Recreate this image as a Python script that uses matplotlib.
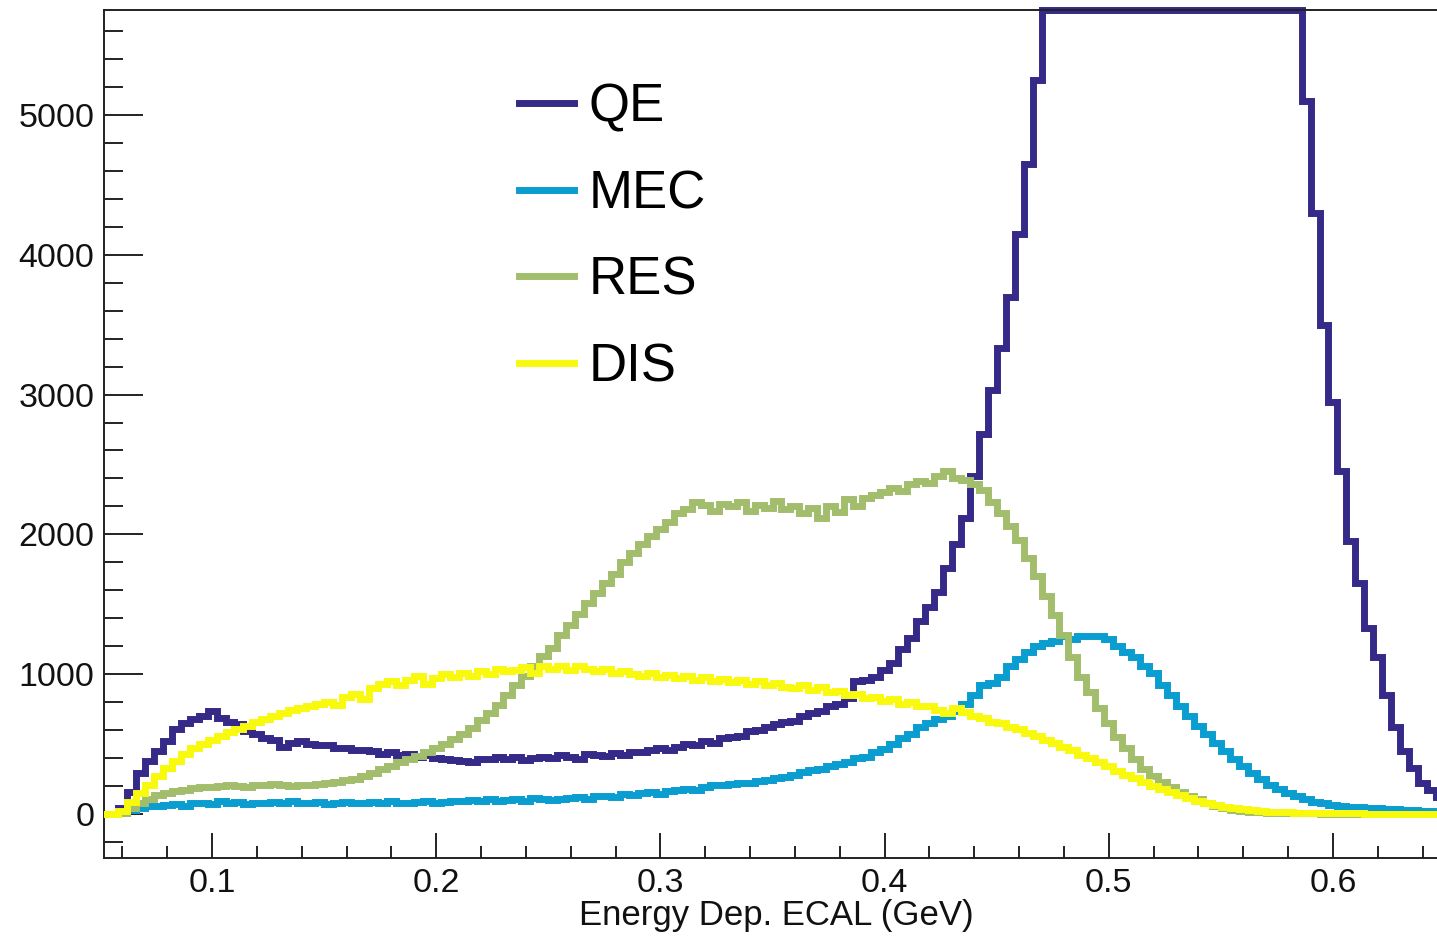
import numpy as np
import matplotlib
matplotlib.use('Agg')
import matplotlib.pyplot as plt
from matplotlib.lines import Line2D
from matplotlib.ticker import MultipleLocator

plt.rcParams['font.family'] = ['Liberation Sans', 'DejaVu Sans']

# histogram binning: 150 bins of 0.004 GeV starting at 0.05
BIN_START = 0.05
BIN_WIDTH = 0.004
N_BINS = 150

labels = ['QE', 'MEC', 'RES', 'DIS']
colors = ['#352a87', '#0a9dcf', '#a2be6c', '#f9f90e']

qe = [0, 0, 40, 160, 290, 380, 450, 520, 610, 650,
      680, 700, 740, 690, 660, 640, 590, 570, 540, 530,
      480, 510, 520, 500, 490, 495, 470, 475, 455, 460,
      450, 430, 440, 425, 430, 410, 420, 400, 395, 385,
      380, 370, 395, 390, 410, 395, 405, 385, 400, 410,
      400, 425, 405, 395, 430, 420, 415, 435, 420, 445,
      440, 455, 470, 460, 480, 500, 490, 520, 510, 540,
      550, 560, 590, 600, 625, 640, 660, 665, 700, 720,
      740, 770, 790, 830, 950, 960, 980, 1030, 1080, 1180,
      1260, 1380, 1480, 1590, 1760, 1930, 2120, 2420, 2720, 3030,
      3330, 3700, 4150, 4650, 5250, 5900, 6300, 6700, 7000, 7300,
      7500, 7700, 7800, 7900, 7950, 8000, 7950, 7900, 7850, 7800,
      7700, 7600, 7500, 7400, 7300, 7150, 7000, 6850, 6700, 6550,
      6400, 6250, 6100, 5900, 5100, 4300, 3500, 2950, 2450, 1950,
      1650, 1330, 1120, 850, 620, 450, 330, 220, 170, 120]

mec = [0, 0, 5, 25, 40, 55, 60, 65, 70, 60,
       75, 80, 70, 90, 75, 85, 70, 80, 75, 85,
       80, 90, 75, 80, 85, 70, 80, 85, 80, 75,
       85, 80, 90, 80, 75, 85, 90, 80, 85, 95,
       90, 100, 95, 110, 90, 100, 105, 95, 115, 105,
       100, 110, 115, 120, 110, 125, 130, 120, 140, 135,
       150, 155, 145, 165, 170, 180, 175, 195, 205, 210,
       215, 225, 220, 235, 240, 255, 265, 280, 300, 315,
       320, 340, 360, 375, 400, 410, 440, 465, 500, 540,
       575, 620, 650, 680, 700, 740, 790, 850, 920, 940,
       980, 1060, 1110, 1160, 1200, 1225, 1240, 1270, 1250, 1270,
       1275, 1270, 1250, 1200, 1160, 1120, 1060, 1010, 920, 850,
       770, 700, 630, 570, 510, 450, 390, 340, 290, 250,
       210, 180, 150, 125, 105, 88, 75, 65, 58, 52,
       48, 45, 40, 38, 35, 30, 25, 22, 18, 15]

res = [0, 0, 10, 40, 75, 110, 135, 150, 165, 175,
       185, 190, 195, 200, 205, 200, 195, 210, 205, 215,
       205, 200, 210, 205, 215, 225, 230, 240, 250, 270,
       290, 320, 340, 375, 390, 415, 440, 470, 500, 535,
       570, 615, 670, 720, 780, 850, 920, 990, 1060, 1130,
       1190, 1280, 1350, 1430, 1510, 1580, 1650, 1720, 1800, 1870,
       1930, 1990, 2040, 2090, 2150, 2180, 2230, 2210, 2170, 2220,
       2200, 2230, 2170, 2210, 2190, 2240, 2180, 2200, 2150, 2190,
       2120, 2200, 2160, 2250, 2200, 2260, 2280, 2300, 2330, 2310,
       2360, 2380, 2370, 2420, 2450, 2400, 2390, 2360, 2320, 2230,
       2150, 2060, 1960, 1830, 1700, 1560, 1420, 1280, 1120, 980,
       870, 760, 650, 550, 470, 390, 320, 270, 230, 190,
       160, 130, 105, 80, 60, 45, 30, 22, 16, 12,
       9, 7, 5, 5, 4, 4, 3, 3, 3, 2,
       2, 2, 2, 2, 1, 1, 1, 1, 1, 1]

dis = [0, 0, 20, 85, 150, 210, 270, 330, 380, 430,
       470, 500, 530, 560, 585, 610, 630, 660, 680, 700,
       720, 745, 760, 770, 790, 800, 780, 840, 855, 820,
       900, 930, 950, 920, 960, 990, 930, 970, 1000, 980,
       1010, 990, 1020, 1000, 1040, 1020, 1030, 1050, 1010, 1060,
       1040, 1055, 1030, 1060, 1040, 1020, 1035, 1010, 1025, 1000,
       990, 1010, 980, 995, 970, 985, 960, 980, 950, 965,
       945, 960, 930, 950, 920, 935, 910, 900, 920, 890,
       905, 870, 880, 850, 860, 830, 840, 810, 820, 790,
       800, 770, 775, 745, 720, 760, 730, 700, 690, 660,
       650, 620, 605, 580, 555, 530, 505, 480, 455, 425,
       400, 370, 340, 310, 280, 255, 230, 200, 180, 160,
       135, 115, 95, 80, 65, 52, 42, 34, 27, 22,
       17, 14, 11, 9, 8, 7, 6, 5, 5, 4,
       4, 3, 3, 3, 2, 2, 2, 2, 1, 1]

XMIN, XMAX = 0.0518, 0.6464
YMIN, YMAX = -315, 5751

edges = BIN_START + BIN_WIDTH * np.arange(N_BINS + 1)

fig = plt.figure(figsize=(14.37, 9.38), dpi=100)
ax = fig.add_axes([104 / 1437, 1 - 858 / 938, 1 - 104 / 1437, (858 - 10) / 938])

# ROOT clips the overflow of the histogram to the top of the frame
top_clip = plt.Rectangle((0, 0), 1, 1.05, transform=ax.transAxes,
                         facecolor='none', edgecolor='none')

series = [qe, mec, res, dis]
for i, vals in enumerate(series):
    v = np.minimum(np.array(vals, dtype=float), YMAX)
    st = ax.stairs(v, edges, baseline=None, color=colors[i], lw=5, zorder=2 + i)
    if i == 0:
        st.set_clip_path(top_clip)

ax.set_xlim(XMIN, XMAX)
ax.set_ylim(YMIN, YMAX)

ax.xaxis.set_major_locator(MultipleLocator(0.1))
ax.xaxis.set_minor_locator(MultipleLocator(0.02))
ax.yaxis.set_major_locator(MultipleLocator(1000))
ax.yaxis.set_minor_locator(MultipleLocator(200))
ax.xaxis.set_major_formatter(plt.FuncFormatter(lambda v, p: f'{v:.1f}'))
ax.yaxis.set_major_formatter(plt.FuncFormatter(lambda v, p: f'{v:.0f}'))

ax.tick_params(axis='both', which='both', direction='in', width=1.4,
               color='#222222', labelsize=24.5, labelcolor='#111111')
ax.tick_params(axis='y', which='major', length=28, pad=7)
ax.tick_params(axis='y', which='minor', length=14)
ax.tick_params(axis='x', which='major', length=18, pad=7)
ax.tick_params(axis='x', which='minor', length=9)

for s in ['left', 'bottom', 'top']:
    ax.spines[s].set_linewidth(1.4)
    ax.spines[s].set_color('#222222')
ax.spines['right'].set_visible(False)

ax.set_xlabel('Energy Dep. ECAL (GeV)', fontsize=25, color='#111111')
ax.xaxis.set_label_coords(0.504, -0.068, transform=ax.transAxes)
ax.xaxis.label.set_va('center')

handles = [Line2D([0], [0], color=c, lw=5) for c in colors]
ax.legend(handles, labels, loc='upper left', bbox_to_anchor=(0.311, 0.915),
          frameon=False, fontsize=38, handlelength=1.05, handletextpad=0.27,
          labelspacing=0.7, borderpad=0, borderaxespad=0)

fig.savefig('out.png', dpi=100)
